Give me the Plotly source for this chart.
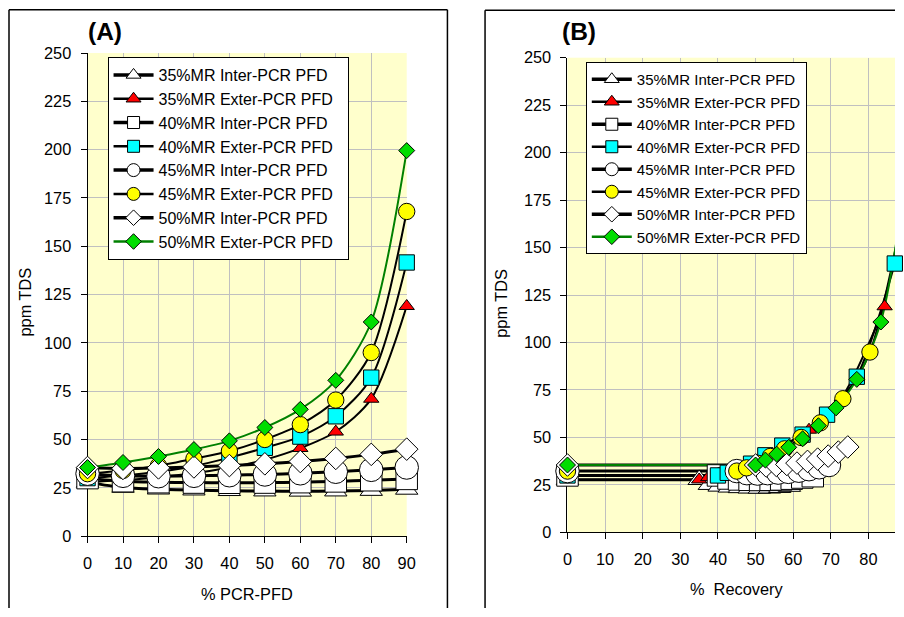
import plotly.graph_objects as go

W, H = 904, 617

# The returned picture shows the page slightly shrunk and offset
# (measured: shown = 0.984*x + 4.5 horizontally, 0.9747*y + 7.8 vertically);
# layout positions below are given in target-picture pixels and converted back.
SX, BX = 0.984, 4.5
SY, BY = 0.9747, 7.8
FS = 1 / 0.978  # font / marker compensation

# ---------------- data ----------------
pfd = [0, 10, 20, 30, 40, 50, 60, 70, 80, 90]

tds_35_inter = [27.8, 25.2, 24.3, 23.8, 23.5, 23.3, 23.2, 23.3, 23.6, 24.2]
tds_35_exter = [27.8, 29.0, 30.5, 32.5, 35.5, 39.5, 45.5, 54.0, 71.0, 119.0]
tds_40_inter = [30.0, 28.4, 27.9, 27.7, 27.6, 27.7, 27.9, 28.3, 28.9, 29.6]
tds_40_exter = [30.0, 31.4, 33.3, 36.2, 40.6, 45.7, 51.5, 62.0, 82.0, 141.6]
tds_45_inter = [32.3, 31.2, 31.0, 31.2, 31.5, 31.9, 32.5, 33.3, 34.3, 35.5]
tds_45_exter = [32.3, 34.0, 36.4, 40.0, 44.0, 50.0, 57.7, 70.4, 95.0, 168.0]
tds_50_inter = [35.5, 35.0, 35.3, 35.8, 36.5, 37.4, 38.6, 40.2, 42.3, 45.0]
tds_50_exter = [35.5, 38.1, 41.2, 44.8, 49.3, 56.2, 65.6, 80.6, 110.8, 199.5]

rec_35_inter = [35.0, 37.7, 40.3, 43.0, 45.7, 48.3, 51.0, 53.7, 56.4, 59.0]
rec_35_exter = [35.0, 37.4, 40.2, 43.5, 47.3, 51.9, 57.4, 64.2, 72.9, 84.3]
rec_40_inter = [40.0, 42.8, 45.6, 48.4, 51.2, 54.0, 56.8, 59.6, 62.4, 65.2]
rec_40_exter = [40.0, 42.6, 45.5, 48.8, 52.6, 57.1, 62.5, 69.0, 76.9, 87.0]
rec_45_inter = [45.0, 47.7, 50.5, 53.2, 56.0, 58.7, 61.5, 64.2, 66.9, 69.5]
rec_45_exter = [45.0, 47.6, 50.6, 53.9, 57.7, 62.1, 67.2, 73.2, 80.4, 89.1]
rec_50_inter = [50.0, 52.8, 55.5, 58.3, 61.0, 63.8, 66.5, 69.3, 72.0, 74.5]
rec_50_exter = [50.0, 52.6, 55.6, 58.8, 62.5, 66.7, 71.4, 76.9, 83.3, 90.9]

names = ["35%MR Inter-PCR PFD", "35%MR Exter-PCR PFD",
         "40%MR Inter-PCR PFD", "40%MR Exter-PCR PFD",
         "45%MR Inter-PCR PFD", "45%MR Exter-PCR PFD",
         "50%MR Inter-PCR PFD", "50%MR Exter-PCR PFD"]
tds = [tds_35_inter, tds_35_exter, tds_40_inter, tds_40_exter,
       tds_45_inter, tds_45_exter, tds_50_inter, tds_50_exter]
rec = [rec_35_inter, rec_35_exter, rec_40_inter, rec_40_exter,
       rec_45_inter, rec_45_exter, rec_50_inter, rec_50_exter]

x_ticks = [0, 10, 20, 30, 40, 50, 60, 70, 80, 90]
y_ticks = [0, 25, 50, 75, 100, 125, 150, 175, 200, 225, 250]

# ---------------- styles ----------------
symbols = ["triangle-up", "triangle-up", "square", "square",
           "circle", "circle", "diamond", "diamond"]
fills = ["white", "#FF0000", "white", "#00FFFF",
         "white", "#FFFF00", "white", "#00DD00"]
line_colors = ["black"] * 7 + ["#008000"]
line_widths = [3, 2, 3, 2, 3, 2, 3, 2]
msizes = [19, 13, 21, 15, 23, 16, 17, 12]
legend_sizes = [13, 13, 12, 12, 13, 13, 12, 12]

FONT = "Liberation Sans, Arial, sans-serif"

fig = go.Figure()


def line_trace(x, y, xa, ya, i, shape):
    return go.Scatter(
        x=x, y=y, xaxis=xa, yaxis=ya, mode="lines",
        line=dict(color=line_colors[i], width=line_widths[i],
                  shape=shape, smoothing=0.8),
        showlegend=False, hoverinfo="skip")


# ---- panel A ----
for i in range(8):
    fig.add_trace(line_trace(pfd, tds[i], "x", "y", i, "spline"))
for i in range(8):
    fig.add_trace(go.Scatter(
        x=pfd, y=tds[i], xaxis="x", yaxis="y", mode="markers",
        marker=dict(symbol=symbols[i], size=msizes[i] * FS, color=fills[i],
                    line=dict(color="black", width=1)),
        cliponaxis=False, showlegend=False, name=names[i]))

# ---- panel B: start point at 0 % recovery joined straight to the curve ----
for i in range(8):
    fig.add_trace(line_trace([0, rec[i][0]], [tds[i][0], tds[i][0]], "x2", "y2", i, "linear"))
    fig.add_trace(line_trace(rec[i], tds[i], "x2", "y2", i, "spline"))
for i in range(8):
    fig.add_trace(go.Scatter(
        x=[0] + rec[i], y=[tds[i][0]] + tds[i], xaxis="x2", yaxis="y2", mode="markers",
        marker=dict(symbol=symbols[i], size=msizes[i] * FS, color=fills[i],
                    line=dict(color="black", width=1)),
        cliponaxis=False, showlegend=False, name=names[i]))

# ---- legend entries ----
for xa, ya, lg, pad in [("x", "y", "legend", "\u00a0\u00a0"), ("x2", "y2", "legend2", "")]:
    for i in range(8):
        fig.add_trace(go.Scatter(
            x=[None], y=[None], xaxis=xa, yaxis=ya, mode="lines+markers",
            name=names[i] + pad, legend=lg,
            line=dict(color=line_colors[i], width=line_widths[i] + 0.5),
            marker=dict(symbol=symbols[i], size=legend_sizes[i], color=fills[i],
                        line=dict(color="black", width=1))))


# target-picture pixel -> paper coordinates
def px_x(p):
    return ((p - BX) / SX) / W


def px_y(p):
    return 1 - ((p - BY) / SY) / H


axis_common = dict(
    showgrid=True, gridcolor="#C0C0C0", gridwidth=1,
    showline=True, linecolor="black", linewidth=1,
    ticks="outside", ticklen=6, tickcolor="black",
    zeroline=False, layer="below traces",
    tickfont=dict(family=FONT, size=16 * FS, color="black"),
    fixedrange=True,
)

# panel B x-axis: 0 at 566.7px, 3.76px per unit; the figure's right edge in the picture
right_edge = W * SX + BX
xb_max = (right_edge - 566.7) / 3.76

fig.update_layout(
    width=W, height=H,
    margin=dict(l=0, r=0, t=0, b=0),
    paper_bgcolor="white",
    plot_bgcolor="#FFFFCC",
    font=dict(family=FONT, size=16, color="black"),
    xaxis=dict(domain=[px_x(87), px_x(406)], range=[0, 90],
               tickvals=x_ticks, anchor="y", ticklabelstandoff=6, **axis_common),
    yaxis=dict(domain=[px_y(537), px_y(52)], range=[0, 250],
               tickvals=y_ticks, anchor="x", ticklabelstandoff=6, **axis_common),
    xaxis2=dict(domain=[px_x(566.7), 1.0], range=[0, xb_max],
                tickvals=x_ticks, anchor="y2", ticklabelstandoff=6, **axis_common),
    yaxis2=dict(domain=[px_y(533.3), px_y(56.7)], range=[0, 250],
                tickvals=y_ticks, anchor="x2", ticklabelstandoff=6, **axis_common),
    legend=dict(x=px_x(107), y=px_y(56), xanchor="left", yanchor="top",
                bgcolor="white", bordercolor="black", borderwidth=1,
                font=dict(family=FONT, size=16.0, color="black"),
                tracegroupgap=0, itemwidth=40),
    legend2=dict(x=px_x(585), y=px_y(61), xanchor="left", yanchor="top",
                 bgcolor="white", bordercolor="black", borderwidth=1,
                 font=dict(family=FONT, size=15.0, color="black"),
                 tracegroupgap=0, itemwidth=40),
    showlegend=True,
)

annotations = [
    dict(text="<b>(A)</b>", x=px_x(104), y=px_y(30), font=dict(size=24 * FS)),
    dict(text="<b>(B)</b>", x=px_x(578), y=px_y(30), font=dict(size=24 * FS)),
    dict(text="ppm TDS", x=px_x(25), y=px_y(302), textangle=-90, font=dict(size=16 * FS)),
    dict(text="ppm TDS", x=px_x(500), y=px_y(303), textangle=-90, font=dict(size=16 * FS)),
    dict(text="% PCR-PFD", x=px_x(246), y=px_y(595), font=dict(size=16 * FS)),
    dict(text="%\u00a0 Recovery", x=px_x(736), y=px_y(590), font=dict(size=16 * FS)),
]
for a in annotations:
    a.update(xref="paper", yref="paper", showarrow=False,
             xanchor="center", yanchor="middle")
    a["font"].update(family=FONT, color="black")
fig.update_layout(annotations=annotations)

border = dict(color="black", width=1.5)
ya_top = min(px_y(8.5), 0.999)
yb_top = min(px_y(9), 0.999)
shapes = [
    dict(type="line", xref="paper", yref="paper", x0=px_x(8.5), x1=px_x(8.5), y0=ya_top, y1=0, line=border),
    dict(type="line", xref="paper", yref="paper", x0=px_x(8.5), x1=px_x(446.7), y0=ya_top, y1=ya_top, line=border),
    dict(type="line", xref="paper", yref="paper", x0=px_x(446.7), x1=px_x(446.7), y0=ya_top, y1=0, line=border),
    dict(type="line", xref="paper", yref="paper", x0=px_x(484.3), x1=px_x(484.3), y0=yb_top, y1=0, line=border),
    dict(type="line", xref="paper", yref="paper", x0=px_x(484.3), x1=1, y0=yb_top, y1=yb_top, line=border),
]
fig.update_layout(shapes=shapes)

fig.write_html("out.html")
